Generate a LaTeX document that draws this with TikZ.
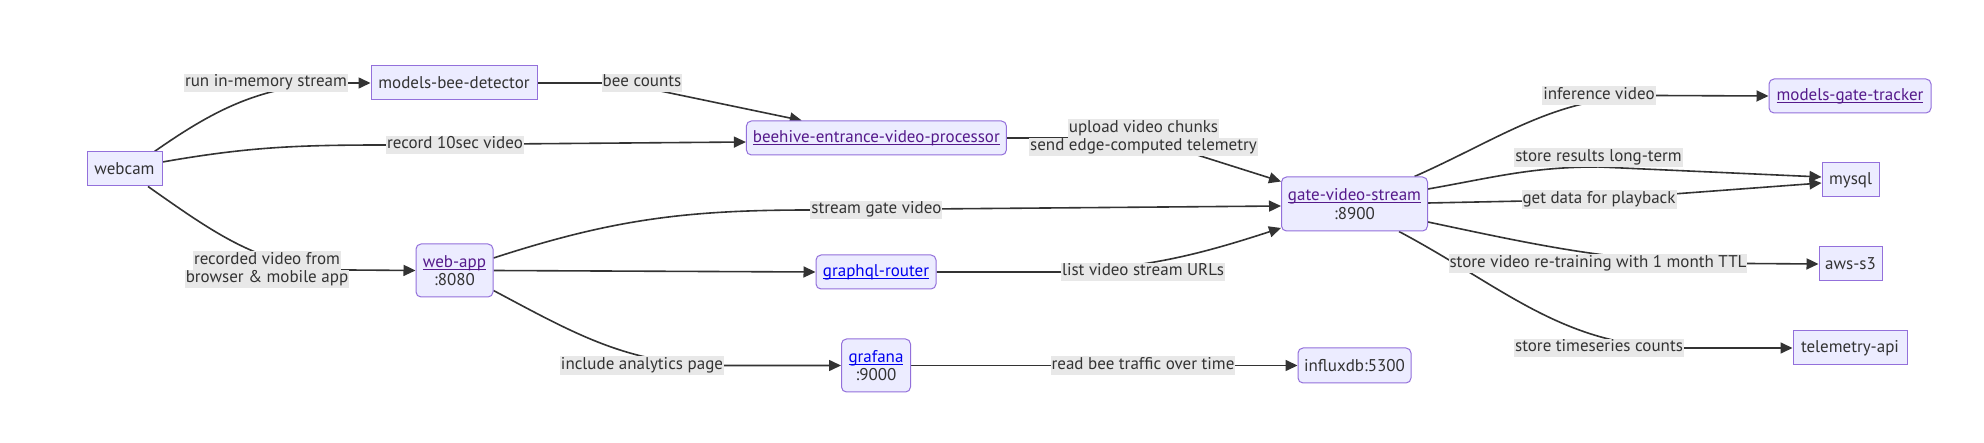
\documentclass[tikz,border=0pt]{standalone}
\usepackage{fontspec}
\setmainfont{PT Sans}
\usetikzlibrary{arrows.meta}
\definecolor{nodefill}{HTML}{ECECFF}
\definecolor{nodeborder}{HTML}{9370DB}
\definecolor{edgec}{HTML}{333333}
\definecolor{lblbg}{HTML}{E8E8E8}
\definecolor{visited}{HTML}{551A8B}
\definecolor{linkblue}{HTML}{0000EE}
\newcommand{\lb}[1]{{\setlength{\fboxsep}{0pt}\colorbox{lblbg}{\strut\hspace{1pt}#1\hspace{1pt}}}}
\newsavebox\ulbox
\newcommand{\ulx}[1]{\sbox\ulbox{#1}\rlap{\usebox\ulbox}\rule[-2.6pt]{\wd\ulbox}{1pt}}
\newcommand{\vlink}[1]{\textcolor{visited}{\ulx{#1}}}
\newcommand{\blink}[1]{\textcolor{linkblue}{\ulx{#1}}}
\pgfdeclarelayer{bg}
\pgfsetlayers{bg,main}
\begin{document}
\begin{tikzpicture}[x=1pt,y=-1pt,
  every node/.style={font=\fontsize{17pt}{18.5pt}\selectfont, text=edgec},
  box/.style={draw=nodeborder, fill=nodefill, line width=1pt, inner sep=0pt, align=center},
  rbox/.style={box, rounded corners=5pt},
  lbl/.style={inner sep=0pt, align=center},
  conn/.style={draw=edgec, line width=1.6pt, -{Triangle[length=12pt,width=11pt]}}
]
\useasboundingbox (0,0) rectangle (1984,443);

% nodes
\node[box, minimum width=75pt, minimum height=34pt] (webcam) at (124.5,169) {webcam};
\node[box, minimum width=166pt, minimum height=34pt] (mbd) at (454,83) {models-bee-detector};
\node[rbox, minimum width=260pt, minimum height=34pt] (beehive) at (876.4,138) {\vlink{beehive-entrance-video-processor}};
\node[rbox, minimum width=77pt, minimum height=53pt] (webapp) at (454.5,270.5) {\vlink{web-app}\\:8080};
\node[rbox, minimum width=120pt, minimum height=34pt] (graphql) at (876,272) {\blink{graphql-router}};
\node[rbox, minimum width=69pt, minimum height=53pt] (grafana) at (876,365.5) {\blink{grafana}\\:9000};
\node[rbox, minimum width=146pt, minimum height=54pt] (gvs) at (1354.5,204) {\vlink{gate-video-stream}\\:8900};
\node[rbox, minimum width=113pt, minimum height=35pt] (influx) at (1354.5,365.5) {influxdb:5300};
\node[rbox, minimum width=162pt, minimum height=34pt] (mgt) at (1850,96) {\vlink{models-gate-tracker}};
\node[box, minimum width=57pt, minimum height=34pt] (mysql) at (1850.5,180) {mysql};
\node[box, minimum width=63pt, minimum height=34pt] (awss3) at (1850.5,264) {aws-s3};
\node[box, minimum width=114pt, minimum height=34pt] (telem) at (1850,348) {telemetry-api};

% edge labels
\node[lbl] (l1) at (266,83) {\lb{run in-memory stream}};
\node[lbl] (l2) at (455,145) {\lb{record 10sec video}};
\node[lbl] (l3) at (267,270) {\lb{recorded video from}\\\lb{browser \& mobile app}};
\node[lbl] (l4) at (642,83) {\lb{bee counts}};
\node[lbl] (l5) at (1143.5,138) {\lb{upload video chunks}\\\lb{send edge-computed telemetry}};
\node[lbl] (l6) at (876.4,210) {\lb{stream gate video}};
\node[lbl] (l7) at (1143,272) {\lb{list video stream URLs}};
\node[lbl] (l8) at (642,365.5) {\lb{include analytics page}};
\node[lbl] (l9) at (1143,365.5) {\lb{read bee traffic over time}};
\node[lbl] (l10) at (1599,95.5) {\lb{inference video}};
\node[lbl] (l11) at (1598.5,157.5) {\lb{store results long-term}};
\node[lbl] (l12) at (1599,199.5) {\lb{get data for playback}};
\node[lbl] (l13) at (1598,263.5) {\lb{store video re-training with 1 month TTL}};
\node[lbl] (l14) at (1599,348) {\lb{store timeseries counts}};

% connectors
\begin{pgfonlayer}{bg}
\fill[white] (0,0) rectangle (1984,443);
\draw[conn] ([xshift=-8pt]webcam.north east) to[out=35,in=180] (l1.east) -- (mbd.west);
\draw[conn] ([yshift=7pt]webcam.east) to[out=10,in=180] (l2.west) -- ([yshift=-4pt]beehive.west);
\draw[conn] ([xshift=23.5pt]webcam.south) to[out=-35,in=180] (l3.east) -- (webapp.west);
\draw[conn] (mbd.east) -- ([xshift=-20pt]l4.center) -- ([xshift=-74.6pt]beehive.north);
\draw[conn] (beehive.east) -- (l5.center) -- ([yshift=-5pt]gvs.north west);
\draw[conn] ([yshift=12.5pt]webapp.east) to[out=18,in=180] (l6.west) -- ([yshift=-2pt]gvs.west);
\draw[conn] (webapp.east) -- (graphql.west);
\draw[conn] (graphql.east) -- (l7.west) to[out=3,in=198] ([yshift=-24pt]gvs.west);
\draw[conn] ([yshift=-20pt]webapp.east) to[out=-28,in=180] (l8.east) -- (grafana.west);
\draw[conn] (grafana.east) -- (l9.center) -- (influx.west);
\draw[conn] ([xshift=-13.5pt]gvs.north east) to[out=24,in=180] (l10.east) -- (mgt.west);
\draw[conn] ([yshift=15pt]gvs.east) to[out=10,in=180] (l11.south) -- ([yshift=3pt]mysql.west);
\draw[conn] ([yshift=1pt]gvs.east) -- (l12.center) -- ([yshift=-3pt]mysql.west);
\draw[conn] ([yshift=-18pt]gvs.east) to[out=-12,in=180] (l13.east) -- (awss3.west);
\draw[conn] ([xshift=44.5pt]gvs.south) to[out=-28,in=180] (l14.east) -- (telem.west);
\end{pgfonlayer}
\end{tikzpicture}
\end{document}
